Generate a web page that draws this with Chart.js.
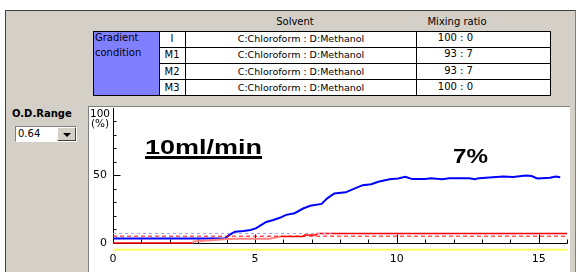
<!DOCTYPE html>
<html lang="en">
<head>
<meta charset="UTF-8">
<title>Gradient condition - 10ml/min</title>
<script src="https://cdn.jsdelivr.net/npm/chart.js"></script>
<style>
  body { margin:0; width:578px; height:272px; background:#fff; overflow:hidden; position:relative;
         font-family:"DejaVu Sans", sans-serif; color:#000; }
  .abs { position:absolute; }
  .panel { left:5px; top:10px; width:569px; height:262px; background:#d4d0c8;
           border-top:1px solid #404040; border-left:1px solid #404040; border-right:1px solid #808080; }
  .hdr { font-size:10px; line-height:12px; top:16px; transform:translateX(-50%); white-space:nowrap; }
  .tbl { left:93px; top:31px; width:458px; height:65px; background:#fff; border:1px solid #000; box-sizing:border-box; }
  .grad { left:94px; top:32px; width:65px; height:63px; background:#8080ff; }
  .vl { width:1px; top:31px; height:65px; background:#000; }
  .hl { height:1px; left:159px; width:392px; background:#000; }
  .cell { font-size:10px; line-height:16px; height:16px; white-space:nowrap; }
  .odr { left:12px; top:108px; font-size:10px; line-height:12px; font-weight:bold; }
  .combo { left:15px; top:126px; width:62px; height:16px; box-sizing:border-box; background:#fff;
           border-top:1px solid #808080; border-left:1px solid #808080; border-right:1px solid #fff; border-bottom:1px solid #fff;
           font-size:10px; line-height:14px; padding-left:2px; }
  .btn { left:57px; top:127px; width:19px; height:14px; box-sizing:border-box; background:#d4d0c8;
         border-top:1px solid #fff; border-left:1px solid #fff; border-right:1px solid #404040; border-bottom:1px solid #404040; }
  .tri { left:63px; top:133px; width:0; height:0; border-left:4px solid transparent; border-right:4px solid transparent; border-top:4px solid #000; }
  .plot { left:88px; top:106px; width:482px; height:166px; background:#fff; box-sizing:border-box;
          border-top:1px solid #808080; border-left:1px solid #808080; }
  .ylab { left:89px; top:107.5px; width:22px; text-align:center; font-size:10.5px; line-height:10px; }
  .big { font-family:"Liberation Sans", Arial, sans-serif; font-weight:bold; line-height:1; transform-origin:left top; white-space:nowrap; }
  canvas { position:absolute; left:88px; top:106px; }
</style>
</head>
<body>
<div class="abs panel"></div>
<div class="abs hdr" style="left:295px">Solvent</div>
<div class="abs hdr" style="left:457px">Mixing ratio</div>

<div class="abs tbl"></div>
<div class="abs grad"></div>
<div class="abs vl" style="left:159px"></div>
<div class="abs vl" style="left:185px"></div>
<div class="abs vl" style="left:416px"></div>
<div class="abs hl" style="top:47px"></div>
<div class="abs hl" style="top:63px"></div>
<div class="abs hl" style="top:79px"></div>
<div class="abs" id="gradText" style="left:95px; top:30px; font-size:10px; line-height:15px;">Gradient<br>condition</div>
<div id="rows"></div>

<div class="abs odr">O.D.Range</div>
<div class="abs combo">0.64</div>
<div class="abs btn"></div>
<div class="abs tri"></div>

<div class="abs plot"></div>
<canvas id="odChart" width="482" height="166"></canvas>
<div class="abs ylab">100<br>(%)</div>
<div class="abs big" style="left:145px; top:135.5px; font-size:21px; transform:scaleX(1.285); text-decoration:underline; text-decoration-thickness:2.5px; text-underline-offset:2px;">10ml/min</div>
<div class="abs big" style="left:453px; top:146.5px; font-size:19.5px; transform:scaleX(1.24);">7%</div>

<script>
// gradient table
const steps = ['I', 'M1', 'M2', 'M3'];
const solvents = ['C:Chloroform : D:Methanol', 'C:Chloroform : D:Methanol', 'C:Chloroform : D:Methanol', 'C:Chloroform : D:Methanol'];
const ratios = ['100 : 0', '93 : 7', '93 : 7', '100 : 0'];

// chart data (time in min, value in %)
const signalT = [0, 3.95, 4.1, 4.3, 4.6, 4.85, 5.05, 5.2, 5.4, 5.65, 5.9, 6.1, 6.4, 6.7, 6.95, 7.35, 7.55, 7.8, 8.2, 8.4, 8.8, 9.1, 9.35, 9.75, 10.05, 10.3, 10.55, 11.0, 11.2, 11.6, 11.85, 12.55, 12.75, 12.9, 13.75, 14.1, 14.55, 14.75, 14.95, 15.4, 15.6, 15.76];
const signalV = [3.3, 3.3, 5.9, 8.2, 8.8, 9.6, 10.9, 13, 15.5, 17, 18.8, 20.8, 22, 25.5, 27.5, 28.9, 33, 36.6, 37.5, 39.3, 42.8, 43.5, 45.3, 47.2, 47.8, 49, 47.3, 47.4, 47.9, 47.2, 48, 47.9, 47.2, 48, 49.3, 48.9, 50, 49.6, 47.8, 48.3, 49.2, 48.6];
const programT = [0, 2.8, 2.85, 3.9, 4.3, 5.5, 5.9, 6.7, 6.75, 7.15, 7.2, 16];
const programV = [0, 0, 1, 2.7, 3, 3, 4.8, 4.8, 5.8, 5.8, 7, 7];
const presetT = [0, 7.7];
const presetV = [7, 7];
const limitT = [0, 16];
const limitV = [5, 5];
const baseT = [0, 16];
const baseV = [-5, -5];
const xTickLabels = [0, 5, 10, 15];
const yTicks = [0, 10, 20, 30, 40, 50, 60, 70, 80, 90, 100];
const yTickLabels = [0, 50];

const rowsEl = document.getElementById('rows');
steps.forEach((s, i) => {
  const top = 31 + i * 16.3;
  rowsEl.insertAdjacentHTML('beforeend',
    `<div class="abs cell" style="left:159px; width:26px; text-align:center; top:${top}px">${s}</div>` +
    `<div class="abs cell" style="left:186px; width:230px; text-align:center; top:${top}px; font-size:9.5px">${solvents[i]}</div>` +
    `<div class="abs cell" style="left:417px; width:56px; text-align:right; top:${top - 1}px">${ratios[i]}</div>`);
});

const pts = (xs, ys) => xs.map((x, i) => ({x: x, y: ys[i]}));

const axesPlugin = {
  id: 'odAxes',
  beforeDatasetsDraw(chart) {
    const {ctx, scales: {x, y}} = chart;
    const y0 = Math.round(y.getPixelForValue(0)) + 0.5;
    const xa = Math.round(x.getPixelForValue(0)) + 0.5;
    ctx.save();
    ctx.strokeStyle = '#000';
    ctx.lineWidth = 1;
    ctx.beginPath();
    ctx.moveTo(xa, y.getPixelForValue(100));
    ctx.lineTo(xa, y0);
    ctx.moveTo(xa, y0);
    ctx.lineTo(x.getPixelForValue(x.max) + 0.5, y0);
    x.ticks.forEach(t => {
      if (t.value === 0) return;
      const px = Math.round(x.getPixelForValue(t.value)) + 0.5;
      const len = t.value % 5 === 0 ? 9 : 4;
      ctx.moveTo(px, y0);
      ctx.lineTo(px, y0 - len);
    });
    y.ticks.forEach(t => {
      if (t.value <= 0 || t.value >= 100) return;
      const py = Math.round(y.getPixelForValue(t.value)) + 0.5;
      const len = t.value % 50 === 0 ? 7 : 3;
      ctx.moveTo(xa, py);
      ctx.lineTo(xa + len, py);
    });
    ctx.stroke();
    ctx.restore();
  }
};

new Chart(document.getElementById('odChart').getContext('2d'), {
  type: 'line',
  data: {
    datasets: [
      { data: pts(baseT, baseV), borderColor: '#ffff60', borderWidth: 2 },
      { data: pts(presetT, presetV), borderColor: '#a0a0ff', borderWidth: 1, borderDash: [3, 3] },
      { data: pts(limitT, limitV), borderColor: '#ff0000', borderWidth: 1, borderDash: [4, 3] },
      { data: pts(programT, programV), borderColor: '#ff0000', borderWidth: 1.5,
        segment: { borderColor: c => (c.p0.parsed.x >= 2.8 && c.p1.parsed.x <= 5.9) ? '#ff8080' : undefined,
                   borderWidth: c => (c.p0.parsed.x >= 2.8 && c.p1.parsed.x <= 5.9) ? 2 : undefined } },
      { data: pts(signalT, signalV), borderColor: '#0000ff', borderWidth: 2 }
    ]
  },
  options: {
    responsive: false,
    animation: false,
    layout: { padding: { top: 2, right: 3 } },
    plugins: { legend: { display: false }, tooltip: { enabled: false } },
    elements: { point: { radius: 0 }, line: { tension: 0 } },
    scales: {
      x: {
        type: 'linear', min: 0, max: 16,
        grid: { display: false, drawTicks: false },
        border: { display: false },
        ticks: {
          stepSize: 1, autoSkip: false, maxRotation: 0, padding: 2, color: '#000',
          font: { family: 'DejaVu Sans', size: 11 },
          callback: v => xTickLabels.includes(v) ? String(v) : ''
        },
        afterFit: s => { s.height = 21; s.paddingLeft = 0; s.paddingRight = 0; }
      },
      y: {
        min: -6, max: 100,
        grid: { display: false, drawTicks: false },
        border: { display: false },
        afterBuildTicks: s => { s.ticks = yTicks.map(v => ({ value: v })); },
        ticks: {
          autoSkip: false, padding: 6, color: '#000',
          font: { family: 'DejaVu Sans', size: 11 },
          callback: v => yTickLabels.includes(v) ? String(v) : ''
        },
        afterFit: s => { s.width = 25; s.paddingTop = 0; s.paddingBottom = 0; }
      }
    }
  },
  plugins: [axesPlugin]
});
</script>
</body>
</html>
